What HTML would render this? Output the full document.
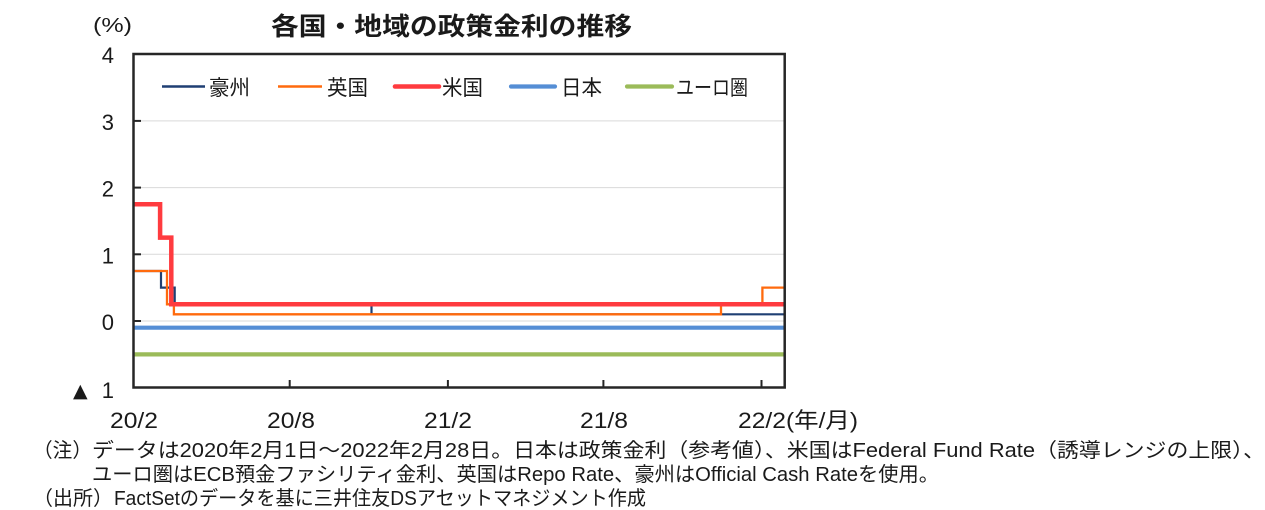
<!DOCTYPE html>
<html><head><meta charset="utf-8"><style>
html,body{margin:0;padding:0;background:#fff;width:1265px;height:510px;overflow:hidden}
svg{display:block}
text{font-family:"Liberation Sans","Noto Sans CJK JP",sans-serif;fill:#1a1a1a}
</style></head><body>
<svg width="1265" height="510" viewBox="0 0 1265 510" xmlns="http://www.w3.org/2000/svg">
<rect width="1265" height="510" fill="#fff"/>
<!-- title -->
<text x="271" y="35" font-size="25" font-weight="bold" textLength="361" lengthAdjust="spacingAndGlyphs">各国・地域の政策金利の推移</text>
<text x="93" y="32" font-size="20" textLength="39" lengthAdjust="spacingAndGlyphs">(%)</text>
<!-- gridlines -->
<g stroke="#d9d9d9" stroke-width="1">
<line x1="134" y1="120.9" x2="784" y2="120.9"/>
<line x1="134" y1="187.6" x2="784" y2="187.6"/>
<line x1="134" y1="254.3" x2="784" y2="254.3"/>
<line x1="134" y1="321" x2="784" y2="321"/>
</g>
<!-- series -->
<g fill="none" stroke-linejoin="miter">
<path d="M133.5,271 H161 V287.6 H174.7 V304.3 H371.5 V314.3 H784.7" stroke="#1f3f73" stroke-width="2.2"/>
<path d="M133.5,271 H167 V304.3 H173.9 V314.3 H721 V304.3 H762.4 V287.6 H784.7" stroke="#ff6a0d" stroke-width="2.3"/>
<path d="M133.5,204.3 H160.1 V237.6 H171.3 V304.3 H784.7" stroke="#ff3b3f" stroke-width="4.5"/>
<path d="M133.5,327.7 H784.7" stroke="#558ed5" stroke-width="4.2"/>
<path d="M133.5,354.4 H784.7" stroke="#9bbb59" stroke-width="4.2"/>
</g>
<!-- ticks -->
<g stroke="#262626" stroke-width="2">
<line x1="133.5" y1="120.9" x2="141" y2="120.9"/>
<line x1="133.5" y1="187.6" x2="141" y2="187.6"/>
<line x1="133.5" y1="254.3" x2="141" y2="254.3"/>
<line x1="133.5" y1="321" x2="141" y2="321"/>
<line x1="289.7" y1="387.5" x2="289.7" y2="380"/>
<line x1="447.9" y1="387.5" x2="447.9" y2="380"/>
<line x1="603.4" y1="387.5" x2="603.4" y2="380"/>
<line x1="761.5" y1="387.5" x2="761.5" y2="380"/>
</g>
<!-- frame -->
<rect x="133.5" y="54" width="651.2" height="333.5" fill="none" stroke="#262626" stroke-width="2.5"/>
<!-- legend -->
<g stroke-width="3">
<line x1="162" y1="86.5" x2="205" y2="86.5" stroke="#1f3f73" stroke-width="2.6"/>
<line x1="278" y1="86.5" x2="322" y2="86.5" stroke="#ff6a0d" stroke-width="2.6"/>
<line x1="395" y1="86.5" x2="439" y2="86.5" stroke="#ff3b3f" stroke-width="4.6" stroke-linecap="round"/>
<line x1="511" y1="86.5" x2="555" y2="86.5" stroke="#558ed5" stroke-width="4.2" stroke-linecap="round"/>
<line x1="627" y1="86.5" x2="672" y2="86.5" stroke="#9bbb59" stroke-width="4.2" stroke-linecap="round"/>
</g>
<g font-size="21">
<text x="209" y="95" textLength="41" lengthAdjust="spacingAndGlyphs">豪州</text>
<text x="327" y="95" textLength="41" lengthAdjust="spacingAndGlyphs">英国</text>
<text x="442" y="95" textLength="41" lengthAdjust="spacingAndGlyphs">米国</text>
<text x="561" y="95" textLength="41" lengthAdjust="spacingAndGlyphs">日本</text>
<text x="676" y="95" textLength="72" lengthAdjust="spacingAndGlyphs">ユーロ圏</text>
</g>
<!-- y labels -->
<g font-size="22" text-anchor="end">
<text x="114" y="63">4</text>
<text x="114" y="130">3</text>
<text x="114" y="196.6">2</text>
<text x="114" y="263.3">1</text>
<text x="114" y="330">0</text>
<text x="114" y="398">1</text>
</g>
<text x="73" y="397" font-size="19" style="font-family:'DejaVu Sans',sans-serif">▲</text>
<!-- x labels -->
<g font-size="22">
<text x="110" y="428" textLength="48" lengthAdjust="spacingAndGlyphs">20/2</text>
<text x="267" y="428" textLength="48" lengthAdjust="spacingAndGlyphs">20/8</text>
<text x="424" y="428" textLength="48" lengthAdjust="spacingAndGlyphs">21/2</text>
<text x="580" y="428" textLength="48" lengthAdjust="spacingAndGlyphs">21/8</text>
<text x="738" y="428" textLength="48" lengthAdjust="spacingAndGlyphs">22/2</text>
<text x="786" y="428" textLength="72" lengthAdjust="spacingAndGlyphs">(年/月)</text>
</g>
<!-- notes -->
<g font-size="20">
<text x="33" y="457" textLength="59" lengthAdjust="spacingAndGlyphs">（注）</text>
<text x="92" y="457" textLength="1173" lengthAdjust="spacingAndGlyphs">データは2020年2月1日～2022年2月28日。日本は政策金利（参考値）、米国はFederal Fund Rate（誘導レンジの上限）、</text>
<text x="92" y="481" textLength="847" lengthAdjust="spacingAndGlyphs">ユーロ圏はECB預金ファシリティ金利、英国はRepo Rate、豪州はOfficial Cash Rateを使用。</text>
<text x="33" y="505" textLength="80" lengthAdjust="spacingAndGlyphs">（出所）</text>
<text x="114" y="505" textLength="532" lengthAdjust="spacingAndGlyphs">FactSetのデータを基に三井住友DSアセットマネジメント作成</text>
</g>
</svg>
</body></html>
